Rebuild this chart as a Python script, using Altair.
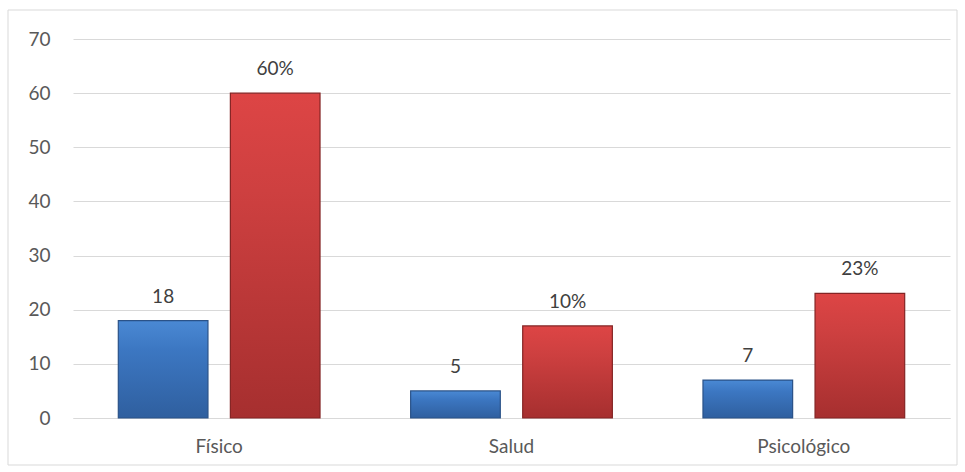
import altair as alt
import pandas as pd

categories = ["Físico", "Salud", "Psicológico"]
blue_values = [18, 5, 7]
red_values = [60, 17, 23]
blue_labels = ["18", "5", "7"]
red_labels = ["60%", "10%", "23%"]

rows = []
for c, v, l in zip(categories, blue_values, blue_labels):
    rows.append({"categoria": c, "serie": "A", "valor": v, "etiqueta": l})
for c, v, l in zip(categories, red_values, red_labels):
    rows.append({"categoria": c, "serie": "B", "valor": v, "etiqueta": l})
df = pd.DataFrame(rows)

FONT = "Lato"
W, H = 877, 379

base = alt.Chart(df).encode(
    x=alt.X("categoria:N", sort=categories, title=None,
            scale=alt.Scale(paddingInner=0.31, paddingOuter=0.155),
            axis=alt.Axis(labelAngle=0, ticks=False, domainColor="#D9D9D9",
                          labelFont=FONT, labelFontSize=19, labelColor="#595959",
                          labelPadding=19, grid=False)),
    xOffset=alt.XOffset("serie:N", scale=alt.Scale(paddingInner=0.2, paddingOuter=0)),
    y=alt.Y("valor:Q", title=None, scale=alt.Scale(domain=[0, 70], nice=False),
            axis=alt.Axis(values=list(range(0, 71, 10)), domain=False, ticks=False,
                          gridColor="#D9D9D9", labelFont=FONT, labelFontSize=19,
                          labelColor="#595959", labelPadding=23)),
)

blue_grad = alt.Gradient(gradient="linear", x1=0, y1=0, x2=0, y2=1,
                         stops=[alt.GradientStop(color="#4A89D4", offset=0),
                                alt.GradientStop(color="#3C77C2", offset=0.3),
                                alt.GradientStop(color="#2F5F9F", offset=1)])
red_grad = alt.Gradient(gradient="linear", x1=0, y1=0, x2=0, y2=1,
                        stops=[alt.GradientStop(color="#DD4545", offset=0),
                               alt.GradientStop(color="#CE4040", offset=0.3),
                               alt.GradientStop(color="#A62F2F", offset=1)])

blue = base.transform_filter(alt.datum.serie == "A").mark_bar(
    color=blue_grad, stroke="#2A5288", strokeWidth=1.2)
red = base.transform_filter(alt.datum.serie == "B").mark_bar(
    color=red_grad, stroke="#842424", strokeWidth=1.2)

labels = base.mark_text(baseline="alphabetic", dy=-18, font=FONT, fontSize=19,
                        color="#404040").encode(text="etiqueta:N")

frame = alt.Chart(pd.DataFrame({"a": [0]})).mark_rect(
    fill=None, stroke="#D9D9D9", strokeWidth=1).encode(
    x=alt.value(-65), x2=alt.value(W + 7), y=alt.value(-29), y2=alt.value(H + 47))

chart = alt.layer(frame, blue, red, labels).properties(
    width=W, height=H,
    autosize=alt.AutoSizeParams(type="none"),
    padding={"left": 73, "top": 39, "right": 15, "bottom": 54},
    background="white",
).configure_view(stroke=None)

chart.save("out.html", embed_options={"renderer": "svg", "actions": False})
